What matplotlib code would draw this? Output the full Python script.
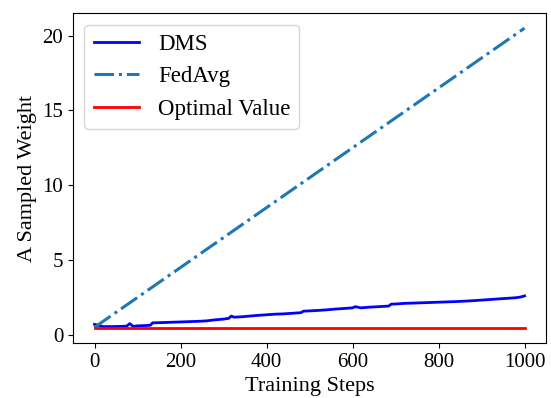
import matplotlib
matplotlib.use("Agg")
import matplotlib.pyplot as plt

plt.rcParams['font.family'] = ['Liberation Serif', 'DejaVu Serif']

# DMS trajectory of one sampled weight
dms_steps = [0, 20, 40, 60, 75, 82, 90, 100, 120, 130, 135, 160, 180, 200, 220, 240,
             260, 280, 300, 312, 318, 325, 340, 360, 380, 400, 420, 440, 460, 480,
             486, 500, 520, 540, 560, 580, 600, 606, 620, 640, 660, 684, 690, 700,
             720, 740, 760, 780, 800, 820, 840, 860, 880, 900, 920, 940, 960, 980,
             990, 1000]
dms_vals = [0.70, 0.55, 0.55, 0.56, 0.58, 0.75, 0.56, 0.60, 0.62, 0.64, 0.80, 0.82,
            0.84, 0.86, 0.88, 0.90, 0.93, 1.00, 1.05, 1.10, 1.25, 1.18, 1.20, 1.25,
            1.30, 1.34, 1.38, 1.40, 1.44, 1.48, 1.58, 1.60, 1.63, 1.67, 1.72, 1.76,
            1.80, 1.88, 1.80, 1.85, 1.88, 1.92, 2.05, 2.06, 2.10, 2.12, 2.14, 2.16,
            2.18, 2.20, 2.22, 2.25, 2.28, 2.32, 2.36, 2.40, 2.44, 2.48, 2.52, 2.60]

# FedAvg drifts linearly away
fedavg_steps = [0, 1000]
fedavg_vals = [0.5, 20.5]

# Optimal value
optimal_steps = [0, 1000]
optimal_vals = [0.45, 0.45]

fig = plt.figure(figsize=(5.51, 3.98), dpi=100)
ax = fig.add_axes([0.1325, 0.138, 0.8585, 0.829])

ax.plot(dms_steps, dms_vals, color='blue', lw=2, label='DMS')
ax.plot(fedavg_steps, fedavg_vals, color='#1f77b4', lw=2.2, ls='-.', label='FedAvg')
ax.plot(optimal_steps, optimal_vals, color='red', lw=2, label='Optimal Value')

ax.set_xticks([0, 200, 400, 600, 800, 1000])
ax.set_yticks([0, 5, 10, 15, 20])
ax.tick_params(labelsize=15)
ax.set_xlabel('Training Steps', fontsize=16, labelpad=4)
ax.set_ylabel('A Sampled Weight', fontsize=16)
ax.legend(loc='upper left', fontsize=16.5)

fig.savefig('out.png', dpi=100)
